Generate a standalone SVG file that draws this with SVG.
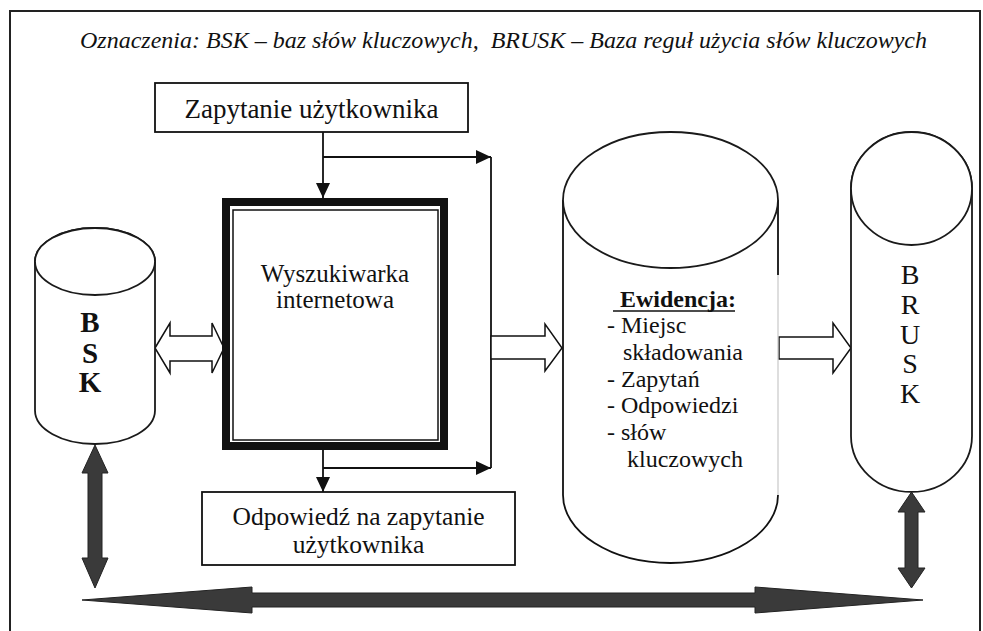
<svg xmlns="http://www.w3.org/2000/svg" width="983" height="631" viewBox="0 0 983 631">
<style>
  .serif { font-family: "Liberation Serif", "Times New Roman", serif; fill: #111; }
  .box { fill: #fff; stroke: #111; stroke-width: 1.8; }
  .cyl { fill: #fff; stroke: #1a1a1a; stroke-width: 1.8; }
  .line { fill: none; stroke: #111; stroke-width: 1.8; }
  .hollow { fill: #fff; stroke: #111; stroke-width: 1.5; stroke-linejoin: miter; }
  .dark { fill: #3a3a3a; stroke: #222; stroke-width: 1; }
</style>
<defs>
  <marker id="ah" markerUnits="userSpaceOnUse" markerWidth="15" markerHeight="14" refX="15" refY="7" orient="auto">
    <path d="M0,0 L15,7 L0,14 z" fill="#111"/>
  </marker>
</defs>
<rect width="983" height="631" fill="#fff"/>
<rect id="frame" x="10" y="11" width="970" height="640" fill="none" stroke="#222" stroke-width="2"/>
<text id="legend" class="serif" x="80" y="48" font-size="24" font-style="italic">Oznaczenia: BSK – baz słów kluczowych,&#160; BRUSK – Baza reguł użycia słów kluczowych</text>

<g id="connectors">
  <path class="line" d="M323,132 L323,198" marker-end="url(#ah)"/>
  <path class="line" d="M323,157 L491,157" marker-end="url(#ah)"/>
  <path class="line" d="M491,157 L491,468"/>
  <path class="line" d="M323,450 L323,492" marker-end="url(#ah)"/>
  <path class="line" d="M323,468 L491,468" marker-end="url(#ah)"/>
  <polygon class="hollow" points="155,348 170,323 170,336 212,336 212,323 224,348 212,373 212,361 170,361 170,373"/>
  <polygon class="hollow" points="491,336 545,336 545,324 562,348 545,371 545,359 491,359"/>
  <polygon class="hollow" points="779,337 833,337 833,323 851,348 833,373 833,359 779,359"/>
  <polygon class="dark" points="95,445 108,473 102,473 102,558 108,558 95,588 82,558 88,558 88,473 82,473"/>
  <polygon class="dark" points="911.5,492 925,512 918,512 918,568 925,568 911.5,588 898,568 905,568 905,512 898,512"/>
  <polygon class="dark" points="82,600 252,587 252,593 755,593 755,587 923,600 755,613 755,607 252,607 252,613"/>
</g>

<g id="query">
  <rect class="box" x="155" y="83" width="313" height="49"/>
  <text class="serif" x="311.5" y="118" font-size="27" text-anchor="middle">Zapytanie użytkownika</text>
</g>

<g id="engine">
  <rect x="226" y="202" width="218" height="244" fill="#fff" stroke="#111" stroke-width="8"/>
  <rect x="233" y="210" width="205" height="230" fill="none" stroke="#111" stroke-width="1.5"/>
  <text class="serif" x="335" y="282" font-size="25" text-anchor="middle">Wyszukiwarka</text>
  <text class="serif" x="335" y="308" font-size="25" text-anchor="middle">internetowa</text>
</g>

<g id="answer">
  <rect class="box" x="202" y="492" width="313" height="73"/>
  <text class="serif" x="358.5" y="525" font-size="25.5" text-anchor="middle">Odpowiedź na zapytanie</text>
  <text class="serif" x="358.5" y="553" font-size="25.5" text-anchor="middle">użytkownika</text>
</g>

<g id="bsk">
  <path class="cyl" d="M35,261.5 L35,410.5 A60,33.5 0 0 0 155,410.5 L155,261.5 A60,33.5 0 0 0 35,261.5 Z"/>
  <ellipse class="cyl" cx="95" cy="261.5" rx="60" ry="33.5"/>
  <text class="serif" x="90" y="332" font-size="29" font-weight="bold" text-anchor="middle">B</text>
  <text class="serif" x="90" y="363" font-size="29" font-weight="bold" text-anchor="middle">S</text>
  <text class="serif" x="90" y="392" font-size="29" font-weight="bold" text-anchor="middle">K</text>
</g>

<g id="ewidencja">
  <path d="M563,200 L563,495 A107.5,68 0 0 0 778,495 L778,200 Z" fill="#fff" stroke="none"/>
  <path class="line" d="M563,200 L563,495 A107.5,68 0 0 0 778,495"/>
  <path class="line" d="M778,200 L778,275"/>
  <path fill="none" stroke="#c8c8c8" stroke-width="1.2" d="M778,275 L778,495"/>
  <ellipse class="cyl" cx="670.5" cy="200" rx="107.5" ry="68"/>
  <text class="serif" x="620" y="307" font-size="24" font-weight="bold">Ewidencja:</text>
  <line x1="613" y1="311" x2="735" y2="311" stroke="#111" stroke-width="1.5"/>
  <text class="serif" x="607" y="333" font-size="24">- Miejsc</text>
  <text class="serif" x="623" y="360" font-size="24">składowania</text>
  <text class="serif" x="607" y="387" font-size="24">- Zapytań</text>
  <text class="serif" x="607" y="413" font-size="24">- Odpowiedzi</text>
  <text class="serif" x="607" y="440" font-size="24">- słów</text>
  <text class="serif" x="627" y="467" font-size="24">kluczowych</text>
</g>

<g id="brusk">
  <path class="cyl" d="M851,188.5 L851,436 A60.5,56 0 0 0 972,436 L972,188.5 A60.5,56.5 0 0 0 851,188.5 Z"/>
  <ellipse class="cyl" cx="911.5" cy="188.5" rx="60.5" ry="56.5"/>
  <text class="serif" x="910" y="284" font-size="28" text-anchor="middle">B</text>
  <text class="serif" x="910" y="314" font-size="28" text-anchor="middle">R</text>
  <text class="serif" x="910" y="344" font-size="28" text-anchor="middle">U</text>
  <text class="serif" x="910" y="373" font-size="28" text-anchor="middle">S</text>
  <text class="serif" x="910" y="403" font-size="28" text-anchor="middle">K</text>
</g>
</svg>
